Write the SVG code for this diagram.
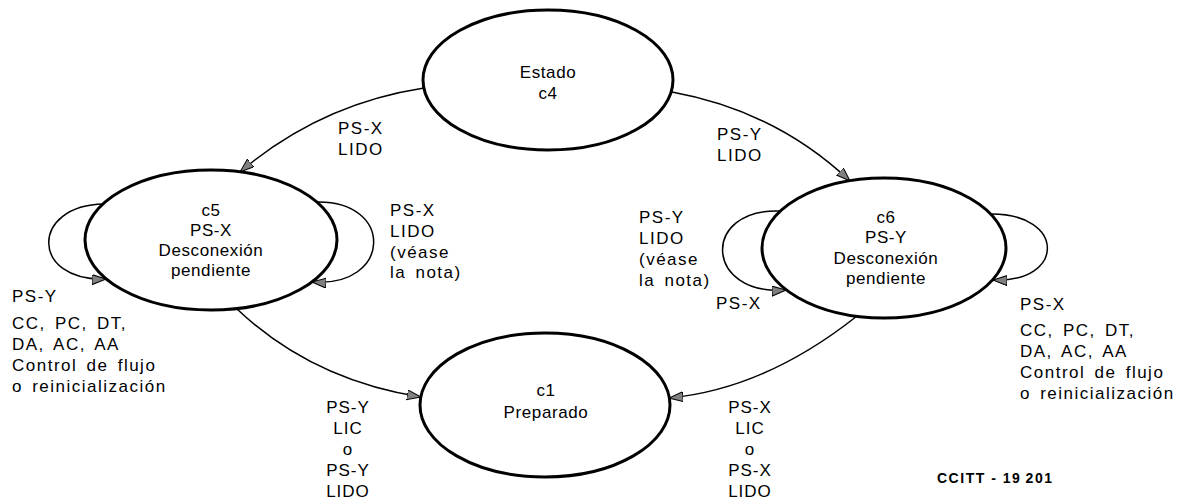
<svg xmlns="http://www.w3.org/2000/svg" width="1184" height="504" viewBox="0 0 1184 504">
  <style>
    .state { fill: #ffffff; stroke: #000000; stroke-width: 3; }
    .edge { fill: none; stroke: #000000; stroke-width: 1.5; }
    text { font-family: "Liberation Sans", Arial, sans-serif; font-size: 17px; fill: #000000; }
    .c { text-anchor: middle; letter-spacing: 0.6px; }
    .s { letter-spacing: 1.5px; word-spacing: 3px; }
    .m { text-anchor: middle; letter-spacing: 1px; }
    .ref { font-size: 14px; font-weight: bold; }
  </style>
  <defs>
    <marker id="arrow" markerUnits="userSpaceOnUse" markerWidth="16" markerHeight="12" refX="14" refY="5" orient="auto">
      <path d="M0,0 L14,5 L0,10 Z" fill="#808080" stroke="#000000" stroke-width="1"/>
    </marker>
  </defs>

  <!-- transitions -->
  <g id="connectors">
    <path class="edge" marker-end="url(#arrow)" d="M424,88 Q320,104 240,172"/>
    <path class="edge" marker-end="url(#arrow)" d="M672,92 Q776,111 850,181"/>
    <path class="edge" marker-end="url(#arrow)" d="M104,204 C30,205 30,282 106,279"/>
    <path class="edge" marker-end="url(#arrow)" d="M316,202 C395,200 392,288 312,282"/>
    <path class="edge" marker-end="url(#arrow)" d="M780,211 C701,208 704,296 786,290"/>
    <path class="edge" marker-end="url(#arrow)" d="M990,214 C1066,213 1066,283 993,280"/>
    <path class="edge" marker-end="url(#arrow)" d="M237,309 Q312,380 421,397"/>
    <path class="edge" marker-end="url(#arrow)" d="M857,316 Q765,389 669,398"/>
  </g>

  <!-- states -->
  <g id="state-c4">
    <ellipse class="state" cx="548" cy="80" rx="125" ry="70"/>
    <text class="c" x="548" y="78">Estado</text>
    <text class="c" x="548" y="99">c4</text>
  </g>
  <g id="state-c5">
    <ellipse class="state" cx="211" cy="240" rx="126" ry="70"/>
    <text class="c" x="211" y="216">c5</text>
    <text class="c" x="211" y="236">PS-X</text>
    <text class="c" x="211" y="256">Desconexión</text>
    <text class="c" x="211" y="276">pendiente</text>
  </g>
  <g id="state-c6">
    <ellipse class="state" cx="884" cy="248" rx="122" ry="70"/>
    <text class="c" x="886" y="223">c6</text>
    <text class="c" x="886" y="243">PS-Y</text>
    <text class="c" x="886" y="264">Desconexión</text>
    <text class="c" x="886" y="284">pendiente</text>
  </g>
  <g id="state-c1">
    <ellipse class="state" cx="545" cy="405" rx="125" ry="72"/>
    <text class="c" x="546" y="396">c1</text>
    <text class="c" x="546" y="418">Preparado</text>
  </g>

  <!-- transition labels -->
  <g id="labels">
    <text class="s" x="338" y="134">PS-X</text>
    <text class="s" x="338" y="155">LIDO</text>
    <text class="s" x="717" y="140">PS-Y</text>
    <text class="s" x="717" y="161">LIDO</text>

    <text class="s" x="390" y="216">PS-X</text>
    <text class="s" x="390" y="237">LIDO</text>
    <text class="s" x="390" y="258">(véase</text>
    <text class="s" x="390" y="278">la nota)</text>

    <text class="s" x="639" y="223">PS-Y</text>
    <text class="s" x="639" y="244">LIDO</text>
    <text class="s" x="639" y="265">(véase</text>
    <text class="s" x="639" y="286">la nota)</text>
    <text class="s" x="716" y="309">PS-X</text>

    <text class="s" x="12" y="302">PS-Y</text>
    <text class="s" x="12" y="329">CC, PC, DT,</text>
    <text class="s" x="12" y="350">DA, AC, AA</text>
    <text class="s" x="12" y="371">Control de flujo</text>
    <text class="s" x="12" y="392">o reinicialización</text>

    <text class="s" x="1020" y="310">PS-X</text>
    <text class="s" x="1020" y="336">CC, PC, DT,</text>
    <text class="s" x="1020" y="357">DA, AC, AA</text>
    <text class="s" x="1020" y="378">Control de flujo</text>
    <text class="s" x="1020" y="399">o reinicialización</text>

    <text class="m" x="348" y="413">PS-Y</text>
    <text class="m" x="348" y="434">LIC</text>
    <text class="m" x="348" y="455">o</text>
    <text class="m" x="348" y="476">PS-Y</text>
    <text class="m" x="348" y="497">LIDO</text>

    <text class="m" x="750" y="413">PS-X</text>
    <text class="m" x="750" y="434">LIC</text>
    <text class="m" x="750" y="455">o</text>
    <text class="m" x="750" y="476">PS-X</text>
    <text class="m" x="750" y="497">LIDO</text>
  </g>

  <text class="ref" x="937" y="483" textLength="115" lengthAdjust="spacing">CCITT - 19&#8201;201</text>
</svg>
